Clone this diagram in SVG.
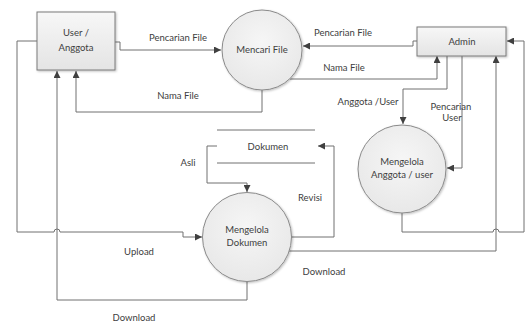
<svg xmlns="http://www.w3.org/2000/svg" width="525" height="322" viewBox="0 0 525 322">
<defs>
<linearGradient id="gBox" x1="0" y1="0" x2="0" y2="1">
<stop offset="0" stop-color="#f7f7f7"/>
<stop offset="1" stop-color="#e4e4e4"/>
</linearGradient>
<radialGradient id="gCirc" cx="0.5" cy="0.4" r="0.6">
<stop offset="0" stop-color="#f6f6f6"/>
<stop offset="1" stop-color="#e8e8e8"/>
</radialGradient>
<marker id="arr" viewBox="0 0 10 10" refX="10" refY="5" markerWidth="7" markerHeight="7" orient="auto" markerUnits="userSpaceOnUse">
<path d="M0,0 L10,5 L0,10 z" fill="#404040"/>
</marker>
<filter id="sh" x="-10%" y="-10%" width="130%" height="130%">
<feDropShadow dx="1" dy="1" stdDeviation="0.8" flood-color="#000" flood-opacity="0.25"/>
</filter>
</defs>
<style>
.box{fill:url(#gBox);stroke:#7a7a7a;stroke-width:1;filter:url(#sh)}
.circ{fill:url(#gCirc);stroke:#8a8a8a;stroke-width:1;filter:url(#sh)}
.ln{fill:none;stroke:#707070;stroke-width:1}
.ar{marker-end:url(#arr)}
text{font-family:Lato,"Liberation Sans",sans-serif;font-size:9.5px;fill:#404040;text-anchor:middle}
</style>
<rect width="525" height="322" fill="#ffffff"/>

<g id="connectors">
<path class="ln ar" d="M115,42 H120 V50 H221"/>
<path class="ln ar" d="M262,90 V112 H76 V71"/>
<path class="ln ar" d="M417,41 H413 V46 H303"/>
<path class="ln ar" d="M290,79 H437 V56"/>
<path class="ln ar" d="M447,56 V89 H403 V124"/>
<path class="ln ar" d="M462,56 V168 H447"/>
<path class="ln ar" d="M402,213 V232 H493 A3,3 0 0 1 499,232 H524 V41 H507"/>
<path class="ln ar" d="M289,251 H496 V56"/>
<path class="ln ar" d="M37,41 H17 V232 H54 A3,3 0 0 1 60,232 H183 V237 H202"/>
<path class="ln ar" d="M247,282 V300 H57 V71"/>
<path class="ln ar" d="M217,146 H207 V183 H247 V192"/>
<path class="ln ar" d="M291,237 H334 V146 H318"/>
</g>

<g id="labels">
<text x="178" y="41">Pencarian File</text>
<text x="178" y="99">Nama File</text>
<text x="343" y="36">Pencarian File</text>
<text x="344" y="71">Nama File</text>
<text x="368" y="105">Anggota /User</text>
<text x="451" y="110">Pencarian</text>
<text x="452" y="121">User</text>
<text x="188" y="166">Asli</text>
<text x="310" y="201">Revisi</text>
<text x="139" y="255">Upload</text>
<text x="324" y="275">Download</text>
<text x="134" y="321">Download</text>
</g>

<g id="user">
<rect class="box" x="37" y="12" width="78" height="58"/>
<text x="76" y="36">User /</text>
<text x="76" y="51">Anggota</text>
</g>

<g id="mencari-file">
<circle class="circ" cx="262" cy="50" r="40"/>
<text x="262" y="53">Mencari File</text>
</g>

<g id="admin">
<rect class="box" x="417" y="27" width="89" height="29"/>
<text x="462" y="45">Admin</text>
</g>

<g id="dokumen-store">
<line class="ln" x1="217" y1="130" x2="315" y2="130"/>
<line class="ln" x1="217" y1="163" x2="315" y2="163"/>
<text x="268" y="150">Dokumen</text>
</g>

<g id="mengelola-anggota">
<circle class="circ" cx="402" cy="169" r="44"/>
<text x="402" y="165">Mengelola</text>
<text x="402" y="178">Anggota / user</text>
</g>

<g id="mengelola-dokumen">
<circle class="circ" cx="247" cy="237" r="44.5"/>
<text x="247" y="233">Mengelola</text>
<text x="247" y="246">Dokumen</text>
</g>
</svg>
